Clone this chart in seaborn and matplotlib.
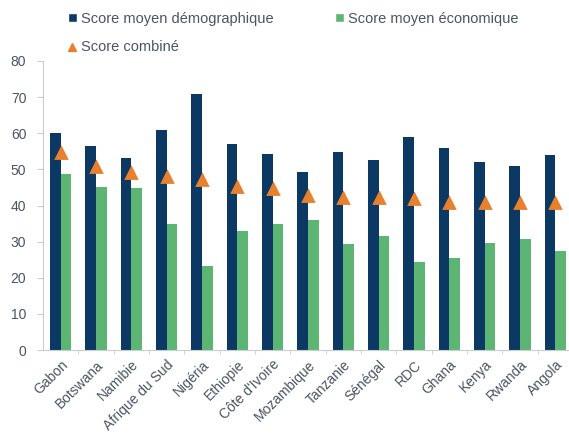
import matplotlib
matplotlib.use("Agg")
import matplotlib.pyplot as plt
import seaborn as sns
import pandas as pd
from matplotlib.lines import Line2D
from matplotlib.patches import Patch

countries = ["Gabon", "Botswana", "Namibie", "Afrique du Sud", "Nigéria", "Ethiopie",
             "Côte d'Ivoire", "Mozambique", "Tanzanie", "Sénégal", "RDC", "Ghana",
             "Kenya", "Rwanda", "Angola"]
score_demo = [60.2, 56.4, 53.2, 60.8, 70.9, 57.1, 54.3, 49.3, 54.8, 52.5, 59.0, 56.0, 52.0, 50.8, 53.9]
score_eco = [48.6, 45.1, 44.9, 35.0, 23.3, 33.0, 34.8, 36.0, 29.4, 31.5, 24.4, 25.6, 29.6, 30.6, 27.3]
score_comb = [54.4, 50.7, 49.0, 47.9, 47.1, 45.0, 44.5, 42.6, 42.1, 42.0, 41.7, 40.8, 40.8, 40.7, 40.6]

label_demo = "Score moyen démographique"
label_eco = "Score moyen économique"
label_comb = "Score combiné"

navy = "#0C3864"
green = "#5DB574"
orange = "#E8812E"
text_col = "#4A5563"

sns.set_style("white")
plt.rcParams["font.family"] = ["Liberation Sans", "DejaVu Sans"]

df = pd.DataFrame({
    "pays": countries * 2,
    "score": score_demo + score_eco,
    "serie": [label_demo] * len(countries) + [label_eco] * len(countries),
})

fig = plt.figure(figsize=(5.69, 4.41), dpi=100)
ax = fig.add_axes([43 / 569, 1 - 350 / 441, 530 / 569, (350 - 61) / 441])

sns.barplot(data=df, x="pays", y="score", hue="serie", order=countries,
            hue_order=[label_demo, label_eco], palette=[navy, green],
            width=0.6, gap=0, saturation=1, errorbar=None, legend=False,
            linewidth=0, edgecolor="none", ax=ax)
sns.pointplot(x=countries, y=score_comb, order=countries, color=orange,
              markers="^", linestyle="none", markersize=7, errorbar=None, ax=ax)

ax.set_xlim(-0.5, len(countries) - 0.5)
ax.set_ylim(0, 80)
ax.set_yticks(range(0, 81, 10))
ax.set_xlabel("")
ax.set_ylabel("")

for s in ["top", "right"]:
    ax.spines[s].set_visible(False)
for s in ["left", "bottom"]:
    ax.spines[s].set_color("#C8CDD2")
    ax.spines[s].set_linewidth(0.8)

ax.tick_params(axis="y", left=True, length=4, color="#C8CDD2", labelsize=10,
               labelcolor=text_col, pad=8)
ax.tick_params(axis="x", bottom=False, labelsize=10, labelcolor=text_col, pad=2)
ax.set_xticks([i + 0.5 for i in range(len(countries) - 1)], minor=True)
ax.tick_params(axis="x", which="minor", bottom=True, length=3, color="#C8CDD2")
plt.setp(ax.get_xticklabels(), rotation=45, ha="right", rotation_mode="anchor")

handles = [
    Patch(facecolor=navy, label=label_demo),
    Line2D([], [], marker="^", color=orange, linestyle="none", markersize=6, label=label_comb),
    Patch(facecolor=green, label=label_eco),
]
fig.legend(handles=handles, ncol=2, loc="upper left", bbox_to_anchor=(62 / 569, 1 - 6 / 441),
           frameon=False, fontsize=10.5, handlelength=0.6, handleheight=0.6,
           handletextpad=0.3, columnspacing=4.2, labelspacing=1.0, labelcolor=text_col,
           borderaxespad=0)

fig.savefig("out.png", dpi=100)
